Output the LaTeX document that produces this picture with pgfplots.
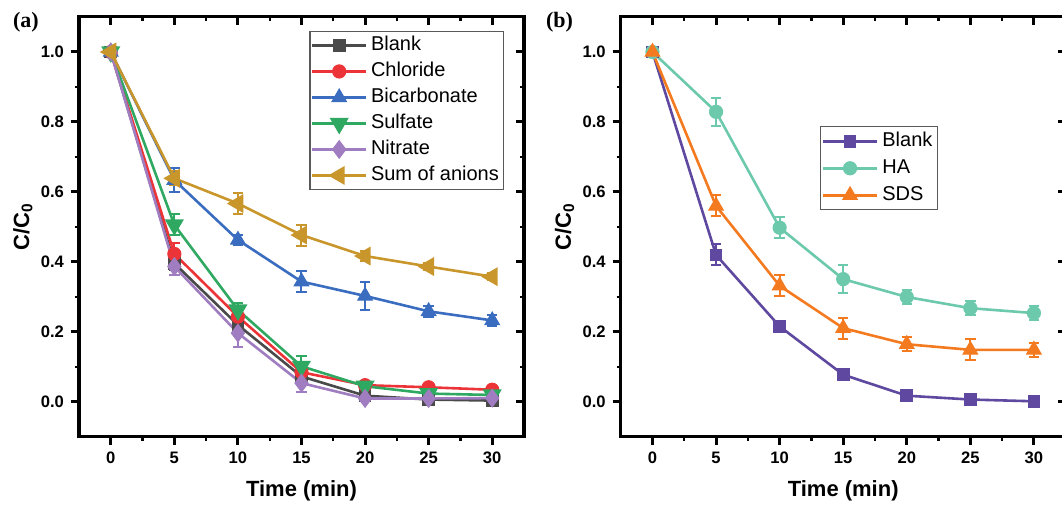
\documentclass[border=0pt]{standalone}
\usepackage{fontspec}
\setmainfont{Liberation Sans}
\newfontfamily\serifbf{Liberation Serif}
\usepackage{pgfplots}
\usepackage{pgfplotstable}
\pgfplotsset{compat=1.18}

\definecolor{cBlank}{RGB}{74,74,74}
\definecolor{cCl}{RGB}{236,52,56}
\definecolor{cBic}{RGB}{58,108,192}
\definecolor{cSul}{RGB}{47,168,98}
\definecolor{cNit}{RGB}{160,124,192}
\definecolor{cSum}{RGB}{201,150,43}
\definecolor{cBlankB}{RGB}{94,72,160}
\definecolor{cHA}{RGB}{108,201,172}
\definecolor{cSDS}{RGB}{244,122,32}

% panel (a)
\pgfplotstableread{
t y e
0 1.000 0.005
5 0.396 0.020
10 0.220 0.020
15 0.073 0.015
20 0.018 0.005
25 0.007 0.005
30 0.004 0.005
}\blankA
\pgfplotstableread{
t y e
0 1.000 0.005
5 0.423 0.030
10 0.244 0.030
15 0.085 0.020
20 0.048 0.008
25 0.042 0.005
30 0.035 0.005
}\chlA
\pgfplotstableread{
t y e
0 1.000 0.010
5 0.634 0.035
10 0.463 0.015
15 0.344 0.031
20 0.303 0.041
25 0.259 0.015
30 0.233 0.015
}\bicA
\pgfplotstableread{
t y e
0 1.000 0.010
5 0.506 0.030
10 0.263 0.020
15 0.102 0.030
20 0.045 0.010
25 0.024 0.005
30 0.020 0.005
}\sulA
\pgfplotstableread{
t y e
0 1.000 0.010
5 0.387 0.025
10 0.197 0.040
15 0.054 0.025
20 0.010 0.005
25 0.010 0.005
30 0.011 0.005
}\nitA
\pgfplotstableread{
t y e
0 1.000 0.005
5 0.639 0.020
10 0.567 0.030
15 0.477 0.030
20 0.417 0.015
25 0.387 0.010
30 0.358 0.010
}\sumA

% panel (b)
\pgfplotstableread{
t y e
0 1.000 0.005
5 0.420 0.030
10 0.216 0.015
15 0.078 0.015
20 0.018 0.005
25 0.007 0.003
30 0.002 0.003
}\blankB
\pgfplotstableread{
t y e
0 1.000 0.005
5 0.829 0.040
10 0.498 0.030
15 0.351 0.040
20 0.300 0.020
25 0.268 0.020
30 0.254 0.020
}\haB
\pgfplotstableread{
t y e
0 1.000 0.005
5 0.560 0.030
10 0.332 0.030
15 0.211 0.030
20 0.165 0.020
25 0.149 0.030
30 0.149 0.020
}\sdsB

\pgfplotsset{
  frame/.style={width=222.5pt,height=210pt,scale only axis,
    xmin=-2.5,xmax=32.5,ymin=-0.1,ymax=1.1,
    xtick={0,5,10,15,20,25,30},ytick={0,0.2,0.4,0.6,0.8,1.0},
    minor x tick num=1,minor y tick num=1,
    axis line style={line width=1.5pt},
    major tick style={line width=1.5pt,black},
    minor tick style={line width=1.2pt,black},
    major tick length=4pt,minor tick length=2pt},
  panel/.style={frame,xtick pos=left,ytick pos=left,tick align=outside,
    /pgf/number format/assume math mode=true,
    ticklabel style={font=\bfseries\fontsize{8.3}{10}\selectfont},
    yticklabel style={/pgf/number format/fixed,/pgf/number format/fixed zerofill,/pgf/number format/precision=1},
    xlabel={\bfseries Time (min)},
    ylabel={\bfseries C/C\textsubscript{0}},
    label style={font=\fontsize{11}{13}\selectfont},
    xlabel style={at={(axis description cs:0.5,-0.128)},anchor=center},
    ylabel style={at={(axis description cs:-0.126,0.5)},anchor=center},
    legend cell align=left,
    legend image code/.code={\draw[mark repeat=2,mark phase=2] plot coordinates {(0pt,0pt)(13.5pt,0pt)(27pt,0pt)};},
    legend style={draw=black!65,line width=0.6pt,font=\fontsize{10}{12}\selectfont,inner sep=0.5pt,
      nodes={text height=7.5pt,text depth=2pt,inner sep=1.75pt}}},
  mirror/.style={frame,xtick pos=right,ytick pos=right,tick align=inside,
    xticklabels={},yticklabels={}},
  ser/.style={line width=1.3pt,color=#1,
    mark options={solid,fill=#1,draw=#1,line width=0.5pt},
    /pgfplots/error bars/y dir=both,
    /pgfplots/error bars/y explicit,
    /pgfplots/error bars/error bar style={line width=1pt,color=#1},
    /pgfplots/error bars/error mark options={rotate=90,line width=1pt,mark size=2.6pt,color=#1}},
}

\begin{document}
\begin{tikzpicture}
\path[use as bounding box] (0,0) rectangle (531pt,253pt);

\begin{axis}[panel,at={(39.5pt,34.5pt)},anchor=south west,
  legend style={at={(0.955,0.967)},anchor=north east}]
\addplot[ser=cBlank,mark=square*,mark size=2.9pt] table[x=t,y=y,y error=e]{\blankA};
\addlegendentry{Blank}
\addplot[ser=cCl,mark=*,mark size=3.3pt] table[x=t,y=y,y error=e]{\chlA};
\addlegendentry{Chloride}
\addplot[ser=cBic,mark=triangle*,mark size=4.2pt] table[x=t,y=y,y error=e]{\bicA};
\addlegendentry{Bicarbonate}
\addplot[ser=cSul,mark=triangle*,mark size=4.2pt,mark options={rotate=180}] table[x=t,y=y,y error=e]{\sulA};
\addlegendentry{Sulfate}
\addplot[ser=cNit,mark=diamond*,mark size=4.4pt] table[x=t,y=y,y error=e]{\nitA};
\addlegendentry{Nitrate}
\addplot[ser=cSum,mark=triangle*,mark size=4.2pt,mark options={rotate=90}] table[x=t,y=y,y error=e]{\sumA};
\addlegendentry{Sum of anions}
\end{axis}
\begin{axis}[mirror,at={(39.5pt,34.5pt)},anchor=south west]
\end{axis}

\begin{axis}[panel,at={(310.35pt,34.5pt)},anchor=south west,
  legend style={at={(0.713,0.740)},anchor=north east,nodes={inner sep=2pt}}]
\addplot[ser=cBlankB,mark=square*,mark size=2.9pt] table[x=t,y=y,y error=e]{\blankB};
\addlegendentry{Blank}
\addplot[ser=cHA,mark=*,mark size=3.3pt] table[x=t,y=y,y error=e]{\haB};
\addlegendentry{HA}
\addplot[ser=cSDS,mark=triangle*,mark size=4.2pt] table[x=t,y=y,y error=e]{\sdsB};
\addlegendentry{SDS}
\end{axis}
\begin{axis}[mirror,at={(310.35pt,34.5pt)},anchor=south west]
\end{axis}

\node[font=\serifbf\bfseries\fontsize{11}{13}\selectfont] at (13pt,242pt) {(a)};
\node[font=\serifbf\bfseries\fontsize{11}{13}\selectfont] at (279.8pt,242pt) {(b)};
\end{tikzpicture}
\end{document}
